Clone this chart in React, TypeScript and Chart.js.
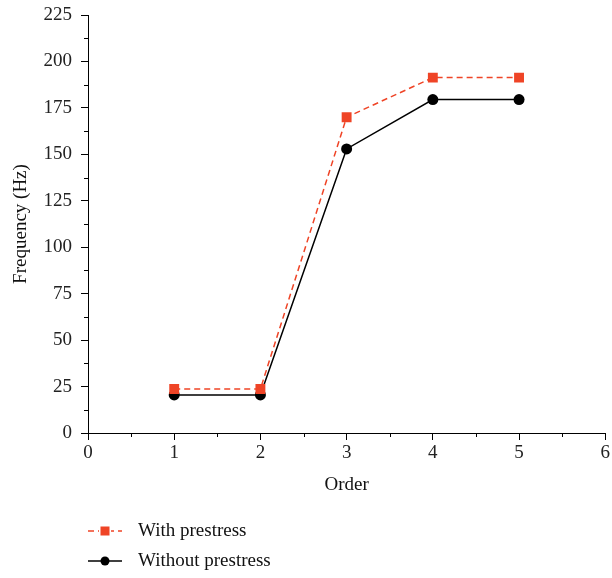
import React, { useEffect, useRef } from "react";
import { Chart, registerables } from "chart.js";

Chart.register(...registerables);

const orders = [1, 2, 3, 4, 5];
const withPrestress = [23.7, 23.7, 170.0, 191.3, 191.3];
const withoutPrestress = [20.5, 20.5, 152.9, 179.5, 179.5];
const seriesLabels = ["With prestress", "Without prestress"];
const xTitle = "Order";
const yTitle = "Frequency (Hz)";

const RED = "#ef4426";
const FONT = "'Liberation Serif', 'DejaVu Serif', serif";

const minorTicks = {
  id: "minorTicks",
  afterDraw(chart: any) {
    const ctx = chart.ctx;
    const xs = chart.scales.x;
    const ys = chart.scales.y;
    ctx.save();
    ctx.strokeStyle = "#000";
    ctx.lineWidth = 1;
    ctx.beginPath();
    for (let v = 0.5; v < 6; v += 1) {
      const px = Math.round(xs.getPixelForValue(v)) + 0.5;
      ctx.moveTo(px, ys.bottom);
      ctx.lineTo(px, ys.bottom + 4);
    }
    for (let v = 12.5; v < 225; v += 25) {
      const py = Math.round(ys.getPixelForValue(v)) + 0.5;
      ctx.moveTo(xs.left, py);
      ctx.lineTo(xs.left - 4, py);
    }
    ctx.stroke();

    // legend
    const lx0 = 88;
    const lx1 = 122;
    const rows = [531, 561];
    ctx.font = `19px ${FONT}`;
    ctx.textBaseline = "middle";
    // row 1
    ctx.strokeStyle = RED;
    ctx.lineWidth = 1.5;
    ctx.setLineDash([6, 4]);
    ctx.beginPath();
    ctx.moveTo(lx0, rows[0]);
    ctx.lineTo(lx1, rows[0]);
    ctx.stroke();
    ctx.setLineDash([]);
    ctx.fillStyle = "#fff";
    ctx.fillRect(99, rows[0] - 6, 12, 12);
    ctx.fillStyle = RED;
    ctx.fillRect(100.5, rows[0] - 4.5, 9, 9);
    // row 2
    ctx.strokeStyle = "#000";
    ctx.beginPath();
    ctx.moveTo(lx0, rows[1]);
    ctx.lineTo(lx1, rows[1]);
    ctx.stroke();
    ctx.fillStyle = "#000";
    ctx.beginPath();
    ctx.arc(105, rows[1], 4.5, 0, Math.PI * 2);
    ctx.fill();
    ctx.fillStyle = "#111";
    ctx.fillText(seriesLabels[0], 138, rows[0]);
    ctx.fillText(seriesLabels[1], 138, rows[1]);
    ctx.restore();
  },
};

export default function App() {
  const ref = useRef<HTMLCanvasElement>(null);
  useEffect(() => {
    if (!ref.current) return;
    const chart = new Chart(ref.current, {
      type: "line",
      data: {
        datasets: [
          {
            label: seriesLabels[0],
            data: orders.map((o, i) => ({ x: o, y: withPrestress[i] })),
            borderColor: RED,
            backgroundColor: RED,
            borderWidth: 1.5,
            borderDash: [6, 4],
            pointStyle: "rect",
            pointRadius: 7,
            pointBorderWidth: 0,
            fill: false,
            tension: 0,
          },
          {
            label: seriesLabels[1],
            data: orders.map((o, i) => ({ x: o, y: withoutPrestress[i] })),
            borderColor: "#000",
            backgroundColor: "#000",
            borderWidth: 1.5,
            pointStyle: "circle",
            pointRadius: 5.5,
            pointBorderWidth: 0,
            fill: false,
            tension: 0,
          },
        ],
      },
      options: {
        animation: false,
        responsive: false,
        maintainAspectRatio: false,
        layout: { autoPadding: false, padding: { left: 0, right: 6, top: 15, bottom: 82 } } as any,
        plugins: { legend: { display: false }, tooltip: { enabled: false } },
        scales: {
          x: {
            type: "linear",
            min: 0,
            max: 6,
            ticks: { stepSize: 1, color: "#222", font: { family: FONT, size: 19 }, padding: 2 },
            grid: { drawOnChartArea: false, drawTicks: true, tickLength: 7, color: "#000" },
            border: { display: true, color: "#000", width: 1 },
            title: { display: true, text: xTitle, color: "#111", font: { family: FONT, size: 19 }, padding: { top: 0, bottom: 0 } },
            afterFit: (s: any) => { s.height = 63; },
          },
          y: {
            type: "linear",
            min: 0,
            max: 225,
            ticks: { stepSize: 25, color: "#222", font: { family: FONT, size: 19, lineHeight: 0.5 }, padding: 9 },
            grid: { drawOnChartArea: false, drawTicks: true, tickLength: 7, color: "#000" },
            border: { display: true, color: "#000", width: 1 },
            title: { display: true, text: yTitle, color: "#111", font: { family: FONT, size: 19 }, padding: { top: 10, bottom: 0 } },
            afterFit: (s: any) => { s.width = 88; },
          },
        },
      },
      plugins: [minorTicks],
    });
    return () => chart.destroy();
  }, []);
  return (
    <div style={{ position: "fixed", left: 0, top: 0, width: 612, height: 578, background: "#fff" }}>
      <canvas ref={ref} width={612} height={578} style={{ width: 612, height: 578 }} />
    </div>
  );
}
